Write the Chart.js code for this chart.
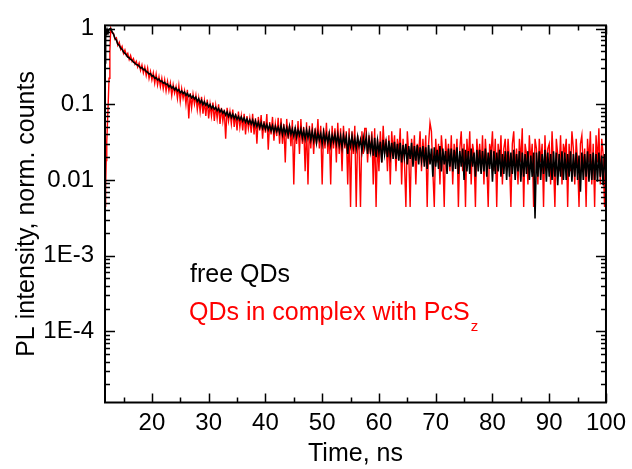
<!DOCTYPE html>
<html>
<head>
<meta charset="utf-8">
<script src="https://cdn.jsdelivr.net/npm/chart.js@4.4.0/dist/chart.umd.min.js"></script>
<style>
  html, body { margin: 0; padding: 0; background: #fff; }
  #wrap { width: 632px; height: 469px; }
</style>
</head>
<body>
<div id="wrap"><canvas id="decayChart" width="632" height="469"></canvas></div>
<script>
// PL decay traces, normalized counts

// rising edge, explicit channel times
const riseTimes = [11.75, 11.85, 11.95, 12.05, 12.15, 12.3, 12.45, 12.6];
const riseFree = [0.35, 0.75, 0.9, 0.82, 0.95, 0.88, 0.97, 0.99];
const riseComplex = [0.0045, 0.008, 0.018, 0.032, 0.05, 0.1, 0.22, 0.5];

// decay part, channel grid starts at 12.75 ns, 0.25 ns per channel
const gridStart = 12.75;
const gridStep = 0.25;

const freeQDs = [
  1.00, 0.90, 0.84, 0.74, 0.70, 0.62, 0.60, 0.55, 0.53, 0.49, 0.47, 0.45, 0.42, 0.41, 0.39, 0.38, 0.36, 0.35, 0.335, 0.33,
  0.32, 0.30, 0.305, 0.285, 0.29, 0.27, 0.265, 0.25, 0.255, 0.235, 0.24, 0.22, 0.225, 0.21, 0.215, 0.20, 0.203, 0.19, 0.195, 0.182,
  0.185, 0.17, 0.178, 0.163, 0.171, 0.155, 0.164, 0.15, 0.156, 0.142, 0.15, 0.138, 0.145, 0.131, 0.139, 0.127, 0.133, 0.121, 0.128, 0.117,
  0.124, 0.109, 0.118, 0.104, 0.113, 0.099, 0.108, 0.097, 0.103, 0.092, 0.099, 0.088, 0.095, 0.086, 0.091, 0.082, 0.088, 0.079, 0.085, 0.076,
  0.081, 0.072, 0.079, 0.069, 0.076, 0.067, 0.074, 0.065, 0.072, 0.063, 0.069, 0.062, 0.068, 0.060, 0.066, 0.058, 0.064, 0.056, 0.062, 0.055,
  0.062, 0.052, 0.060, 0.051, 0.058, 0.049, 0.057, 0.048, 0.055, 0.047, 0.054, 0.046, 0.053, 0.045, 0.052, 0.043, 0.051, 0.044, 0.050, 0.042,
  0.052, 0.040, 0.050, 0.041, 0.049, 0.039, 0.051, 0.040, 0.047, 0.038, 0.048, 0.037, 0.046, 0.039, 0.047, 0.036, 0.045, 0.035, 0.046, 0.036,
  0.045, 0.034, 0.044, 0.033, 0.043, 0.031, 0.042, 0.034, 0.041, 0.030, 0.043, 0.032, 0.040, 0.031, 0.041, 0.029, 0.039, 0.032, 0.040, 0.030,
  0.040, 0.029, 0.038, 0.027, 0.039, 0.030, 0.037, 0.022, 0.036, 0.028, 0.038, 0.027, 0.035, 0.026, 0.037, 0.028, 0.034, 0.024, 0.036, 0.027,
  0.037, 0.022, 0.035, 0.024, 0.034, 0.021, 0.036, 0.020, 0.033, 0.023, 0.032, 0.017, 0.034, 0.022, 0.031, 0.020, 0.033, 0.021, 0.031, 0.019,
  0.032, 0.019, 0.030, 0.018, 0.031, 0.017, 0.029, 0.020, 0.030, 0.016, 0.028, 0.019, 0.031, 0.015, 0.028, 0.018, 0.029, 0.016, 0.027, 0.018,
  0.028, 0.015, 0.027, 0.014, 0.029, 0.016, 0.026, 0.011, 0.027, 0.015, 0.025, 0.014, 0.028, 0.013, 0.026, 0.016, 0.024, 0.012, 0.026, 0.015,
  0.026, 0.013, 0.025, 0.014, 0.027, 0.012, 0.024, 0.015, 0.026, 0.010, 0.025, 0.013, 0.024, 0.012, 0.026, 0.015, 0.023, 0.011, 0.025, 0.013,
  0.025, 0.012, 0.024, 0.013, 0.026, 0.011, 0.023, 0.014, 0.025, 0.0095, 0.024, 0.012, 0.023, 0.013, 0.025, 0.011, 0.022, 0.012, 0.024, 0.010,
  0.024, 0.011, 0.023, 0.012, 0.025, 0.010, 0.022, 0.013, 0.024, 0.0095, 0.023, 0.011, 0.022, 0.012, 0.024, 0.010, 0.021, 0.011, 0.023, 0.0031,
  0.023, 0.011, 0.024, 0.010, 0.022, 0.012, 0.025, 0.0095, 0.023, 0.011, 0.022, 0.010, 0.024, 0.011, 0.023, 0.0085, 0.022, 0.011, 0.024, 0.010,
  0.023, 0.010, 0.022, 0.011, 0.024, 0.0095, 0.022, 0.011, 0.023, 0.010, 0.021, 0.007, 0.023, 0.010, 0.022, 0.011, 0.024, 0.0095, 0.022, 0.010,
  0.023, 0.010, 0.022, 0.0095, 0.023, 0.011, 0.021, 0.0085, 0.022, 0.011
];

const complexQDs = [
  1.0, 0.88, 0.86, 0.72, 0.75, 0.6, 0.66, 0.53, 0.58, 0.47, 0.52, 0.44, 0.47, 0.39, 0.44, 0.37, 0.40, 0.34, 0.37, 0.31,
  0.35, 0.28, 0.33, 0.26, 0.31, 0.24, 0.30, 0.22, 0.27, 0.21, 0.26, 0.19, 0.25, 0.18, 0.23, 0.17, 0.22, 0.16, 0.21, 0.15,
  0.20, 0.15, 0.19, 0.13, 0.18, 0.14, 0.17, 0.12, 0.175, 0.11, 0.16, 0.12, 0.15, 0.10, 0.155, 0.065, 0.14, 0.09, 0.135, 0.10,
  0.13, 0.085, 0.12, 0.08, 0.125, 0.075, 0.11, 0.07, 0.115, 0.065, 0.10, 0.07, 0.105, 0.06, 0.095, 0.065, 0.10, 0.055, 0.09, 0.06,
  0.085, 0.035, 0.09, 0.06, 0.08, 0.055, 0.085, 0.05, 0.075, 0.045, 0.08, 0.05, 0.07, 0.045, 0.075, 0.04, 0.07, 0.048, 0.065, 0.042,
  0.075, 0.04, 0.065, 0.03, 0.068, 0.045, 0.072, 0.035, 0.06, 0.042, 0.074, 0.025, 0.058, 0.04, 0.068, 0.033, 0.055, 0.038, 0.066, 0.03,
  0.065, 0.03, 0.055, 0.017, 0.064, 0.035, 0.052, 0.028, 0.062, 0.0087, 0.05, 0.03, 0.06, 0.022, 0.064, 0.03, 0.05, 0.013, 0.058, 0.0087,
  0.052, 0.026, 0.056, 0.022, 0.048, 0.030, 0.064, 0.026, 0.052, 0.0087, 0.048, 0.026, 0.057, 0.022, 0.044, 0.0087, 0.052, 0.026, 0.048, 0.017,
  0.057, 0.022, 0.048, 0.013, 0.052, 0.026, 0.044, 0.0087, 0.048, 0.0044, 0.044, 0.022, 0.052, 0.0044, 0.039, 0.026, 0.0044, 0.044, 0.022, 0.048,
  0.048, 0.017, 0.039, 0.022, 0.044, 0.0087, 0.048, 0.0044, 0.035, 0.013, 0.044, 0.017, 0.052, 0.022, 0.035, 0.013, 0.039, 0.0087, 0.044, 0.022,
  0.039, 0.013, 0.035, 0.022, 0.048, 0.0087, 0.035, 0.017, 0.0044, 0.044, 0.022, 0.0044, 0.035, 0.017, 0.039, 0.0087, 0.030, 0.022, 0.044, 0.013,
  0.035, 0.017, 0.039, 0.0044, 0.030, 0.057, 0.044, 0.013, 0.0044, 0.035, 0.017, 0.030, 0.0087, 0.039, 0.022, 0.0044, 0.035, 0.017, 0.030, 0.013,
  0.039, 0.0087, 0.030, 0.017, 0.035, 0.0044, 0.026, 0.044, 0.013, 0.030, 0.0044, 0.035, 0.017, 0.044, 0.0087, 0.030, 0.022, 0.0044, 0.035, 0.017,
  0.030, 0.013, 0.039, 0.0087, 0.035, 0.017, 0.0044, 0.030, 0.022, 0.044, 0.013, 0.035, 0.0044, 0.030, 0.017, 0.039, 0.0087, 0.026, 0.035, 0.013,
  0.035, 0.017, 0.0044, 0.030, 0.044, 0.013, 0.026, 0.0087, 0.035, 0.017, 0.048, 0.0044, 0.030, 0.022, 0.0087, 0.039, 0.017, 0.030, 0.0044, 0.035,
  0.026, 0.0087, 0.035, 0.017, 0.030, 0.0044, 0.039, 0.013, 0.026, 0.030, 0.0087, 0.044, 0.017, 0.0044, 0.035, 0.022, 0.013, 0.039, 0.0087, 0.030,
  0.022, 0.035, 0.0044, 0.030, 0.013, 0.044, 0.026, 0.0087, 0.035, 0.017, 0.0044, 0.030, 0.039, 0.013, 0.026, 0.0044, 0.035, 0.017, 0.044, 0.0087,
  0.030, 0.0044, 0.039, 0.017, 0.048, 0.0087, 0.035, 0.022, 0.0044, 0.030
];

// axes
const xMin = 11.74, xMax = 100;
const yMin = 1.15e-5, yMax = 1.1;
const xTickValues = [20, 30, 40, 50, 60, 70, 80, 90, 100];
const xMinorValues = [15, 25, 35, 45, 55, 65, 75, 85, 95];
const yTickValues = [1e-4, 1e-3, 0.01, 0.1, 1];
const yTickLabels = ['1E-4', '1E-3', '0.01', '0.1', '1'];

const FONT = '"Liberation Sans", Arial, Helvetica, sans-serif';

function toPoints(rise, values) {
  const pts = riseTimes.map((t, i) => ({ x: t, y: rise[i] }));
  values.forEach((v, i) => pts.push({ x: gridStart + i * gridStep, y: v }));
  return pts;
}

// minor log ticks 2..9 in each decade
const yMinorValues = [];
for (let e = -5; e <= 0; e++) {
  for (let m = 2; m <= 9; m++) {
    const v = m * Math.pow(10, e);
    if (v > yMin && v < yMax) yMinorValues.push(v);
  }
}

// frame, inward ticks and the text legend
const framePlugin = {
  id: 'frame',
  afterDatasetsDraw(chart) {
    const { ctx, chartArea: a, scales: { x, y } } = chart;
    ctx.save();
    ctx.strokeStyle = '#000';
    ctx.lineWidth = 1.5;
    ctx.beginPath();
    const vTick = (v, len) => {
      const px = Math.round(x.getPixelForValue(v)) + 0.5;
      ctx.moveTo(px, a.bottom); ctx.lineTo(px, a.bottom - len);
      ctx.moveTo(px, a.top); ctx.lineTo(px, a.top + len);
    };
    const hTick = (v, len) => {
      const py = Math.round(y.getPixelForValue(v)) + 0.5;
      ctx.moveTo(a.left, py); ctx.lineTo(a.left + len, py);
      ctx.moveTo(a.right, py); ctx.lineTo(a.right - len, py);
    };
    xTickValues.forEach(v => vTick(v, 9));
    xMinorValues.forEach(v => vTick(v, 5));
    yTickValues.forEach(v => hTick(v, 10));
    yMinorValues.forEach(v => hTick(v, 5));
    ctx.stroke();

    ctx.lineWidth = 2;
    ctx.strokeRect(a.left, a.top, a.right - a.left, a.bottom - a.top);

    // legend
    ctx.textBaseline = 'alphabetic';
    ctx.textAlign = 'left';
    ctx.font = '25px ' + FONT;
    ctx.fillStyle = '#000';
    ctx.fillText('free QDs', a.left + 85, a.top + 256.5);
    ctx.fillStyle = '#ff0000';
    const lx = a.left + 84, ly = a.top + 294.5;
    const main = 'QDs in complex with PcS';
    ctx.fillText(main, lx, ly);
    const w = ctx.measureText(main).width;
    ctx.font = '15px ' + FONT;
    ctx.fillText('z', lx + w + 1, ly + 11);
    ctx.restore();
  }
};

new Chart(document.getElementById('decayChart'), {
  type: 'line',
  data: {
    datasets: [{
      label: 'free QDs',
      data: toPoints(riseFree, freeQDs),
      borderColor: '#000000',
      borderWidth: 1.6,
      pointRadius: 0,
      tension: 0,
      order: 0
    }, {
      label: 'QDs in complex with PcSz',
      data: toPoints(riseComplex, complexQDs),
      borderColor: '#ff0000',
      borderWidth: 1.4,
      pointRadius: 0,
      tension: 0,
      order: 1
    }]
  },
  options: {
    responsive: false,
    animation: false,
    parsing: false,
    layout: { padding: { top: 18.5, right: 25, left: 0, bottom: 0 } },
    plugins: {
      legend: { display: false },
      tooltip: { enabled: false }
    },
    scales: {
      x: {
        type: 'linear',
        min: xMin,
        max: xMax,
        grid: { display: false, drawTicks: false },
        border: { display: false },
        afterBuildTicks: s => { s.ticks = xTickValues.map(v => ({ value: v })); },
        afterFit: s => { s.height = 66.5; },
        ticks: {
          color: '#000',
          padding: 6,
          maxRotation: 0,
          autoSkip: false,
          font: { family: FONT, size: 24 },
          callback: v => String(v)
        },
        title: {
          display: true,
          text: 'Time, ns',
          color: '#000',
          font: { family: FONT, size: 25, lineHeight: 1.2 },
          padding: { top: 0, bottom: 0 }
        }
      },
      y: {
        type: 'logarithmic',
        min: yMin,
        max: yMax,
        grid: { display: false, drawTicks: false },
        border: { display: false },
        afterBuildTicks: s => { s.ticks = yTickValues.map(v => ({ value: v })); },
        afterFit: s => { s.width = 105; },
        ticks: {
          color: '#000',
          padding: 11,
          autoSkip: false,
          font: { family: FONT, size: 24 },
          callback: (v, i) => yTickLabels[i]
        },
        title: {
          display: true,
          text: 'PL intensity, norm. counts',
          color: '#000',
          font: { family: FONT, size: 25, lineHeight: 1.2 },
          padding: { top: 12, bottom: 0 }
        }
      }
    }
  },
  plugins: [framePlugin]
});
</script>
</body>
</html>
